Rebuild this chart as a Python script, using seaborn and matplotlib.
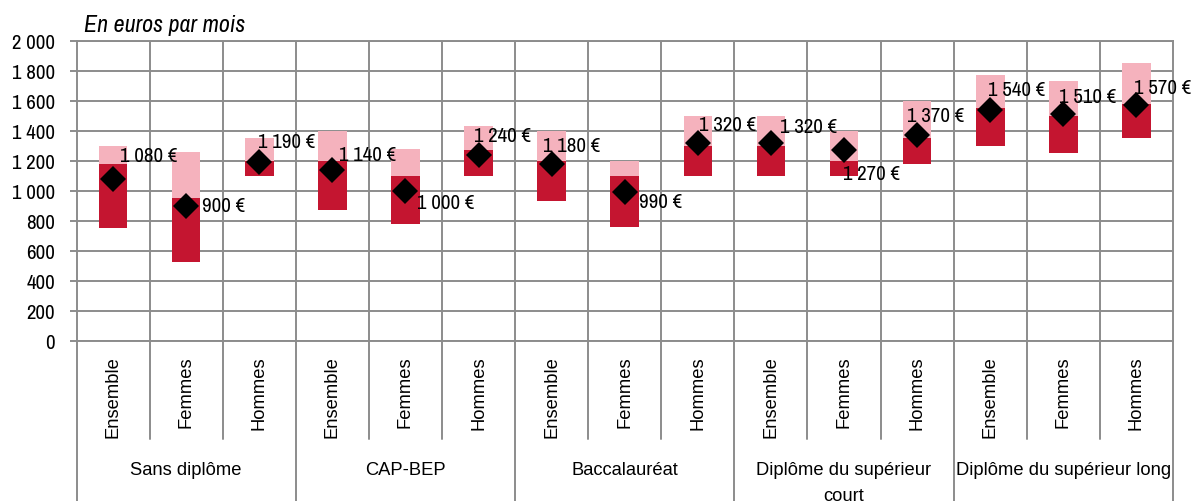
import numpy as np
import pandas as pd
import matplotlib
matplotlib.use("Agg")
import matplotlib.pyplot as plt
import matplotlib.transforms as mtransforms
from matplotlib import font_manager as fm
import seaborn as sns

# Salary distribution by diploma and sex (euros per month)
groups = ["Sans diplôme", "CAP-BEP", "Baccalauréat",
          "Diplôme du supérieur\ncourt", "Diplôme du supérieur long"]
subgroups = ["Ensemble", "Femmes", "Hommes"]

low = [750, 525, 1100, 870, 780, 1100, 930, 760, 1100,
       1100, 1100, 1180, 1300, 1250, 1350]
mid = [1180, 950, 1200, 1200, 1100, 1270, 1200, 1100, 1300,
       1300, 1200, 1350, 1550, 1500, 1580]
high = [1300, 1260, 1350, 1400, 1280, 1430, 1400, 1200, 1500,
        1500, 1400, 1600, 1770, 1730, 1850]
value = [1080, 900, 1190, 1140, 1000, 1240, 1180, 990, 1320,
         1320, 1270, 1370, 1540, 1510, 1570]

y_ticks = list(range(0, 2001, 200))

DARK = "#C41530"
PINK = "#F5B2BD"
GRID = "#8C8C8C"

# Narrow face for numbers and the unit note; Arial-metric face for categories
installed = {f.name for f in fm.fontManager.ttflist}
narrow = [n for n in installed if "Narrow" in n or "Condensed" in n]
if "Liberation Sans Narrow" in narrow:
    NUM_FAMILY, FS, TITLE_FS = "Liberation Sans Narrow", 16, 18
elif narrow:
    NUM_FAMILY, FS, TITLE_FS = sorted(narrow)[0], 15, 17.3
else:
    NUM_FAMILY, FS, TITLE_FS = "Liberation Sans", 13.1, 14.4
CAT_FAMILY = ["Liberation Sans", "DejaVu Sans"]
CAT_FS = 13.2

sns.set_theme(style="white")
plt.rcParams["font.family"] = [NUM_FAMILY, "DejaVu Sans"]
plt.rcParams["font.size"] = FS
plt.rcParams["text.color"] = "black"
plt.rcParams["xtick.labelcolor"] = "black"
plt.rcParams["ytick.labelcolor"] = "black"

keys = [f"{g} | {s}" for g in groups for s in subgroups]
df = pd.DataFrame({
    "key": keys,
    "sub": [s for _ in groups for s in subgroups],
    "low": low, "mid": mid, "high": high, "value": value,
})
df["upper"] = df["high"] - df["mid"]
df["lower"] = df["mid"] - df["low"]

fig = plt.figure(figsize=(11.96, 5.02), dpi=100)
ax = fig.add_axes([76.5 / 1196, 160.3 / 502, (1173 - 76.5) / 1196, 300 / 502])

sns.barplot(data=df, x="key", y="upper", bottom=df["mid"].to_numpy(),
            color=PINK, saturation=1, width=0.39, errorbar=None,
            linewidth=0, ax=ax, zorder=2)
sns.barplot(data=df, x="key", y="lower", bottom=df["low"].to_numpy(),
            color=DARK, saturation=1, width=0.39, errorbar=None,
            linewidth=0, ax=ax, zorder=2)
sns.pointplot(data=df, x="key", y="value", color="black", marker="D",
              linestyle="none", markersize=13.3, markeredgewidth=0,
              errorbar=None, ax=ax, zorder=4)

n = len(keys)
ax.set_xlim(-0.5, n - 0.5)
ax.set_ylim(0, 2000)
ax.set_xlabel("")
ax.set_ylabel("")

# Axis, grid and ticks
ax.set_yticks(y_ticks, labels=[f"{v:,}".replace(",", " ") for v in y_ticks])
ax.set_xticks(range(n), labels=df["sub"], rotation=90)
ax.set_xticks(np.arange(0.5, n - 1), minor=True)
for lab in ax.get_xticklabels():
    lab.set_fontfamily(CAT_FAMILY)
ax.tick_params(axis="x", which="both", length=0, pad=10.3, labelsize=CAT_FS)
ax.tick_params(axis="y", which="major", length=4.8, width=1.4, color=GRID,
               direction="out", pad=10.5, labelsize=FS, left=True)
ax.grid(False)
ax.grid(True, axis="y", which="major", color=GRID, linewidth=1.4)
ax.grid(True, axis="x", which="minor", color=GRID, linewidth=1.4)
ax.set_axisbelow(True)
for side in ax.spines.values():
    side.set_visible(True)
    side.set_color(GRID)
    side.set_linewidth(1.4)

# Value labels next to the diamonds (offsets in points)
label_offsets = [(5, 16.5), (11.5, 0), (-1, 15), (4.5, 11), (8.5, -8.5),
                 (-3, 14), (-6, 13), (10.5, -6.5), (1, 13), (6.5, 11.5),
                 (-1, -16.5), (-7, 14.5), (-1.5, 14.5), (-3, 12.5), (-2, 13)]
for i, (v, (dx, dy)) in enumerate(zip(value, label_offsets)):
    ax.annotate(f"{v:,}".replace(",", " ") + " €", xy=(i, v),
                xytext=(dx, dy), textcoords="offset points",
                ha="left", va="center", fontsize=FS, color="black",
                zorder=5)

# Separators of the two-level category axis
trans = mtransforms.blended_transform_factory(ax.transData, ax.transAxes)
for b in np.arange(-0.5, n):
    is_group_edge = abs((b + 0.5) % 3) < 1e-9
    y_end = -0.56 if is_group_edge else -0.3277
    ax.plot([b, b], [0, y_end], color=GRID, linewidth=1.4,
            transform=trans, clip_on=False, zorder=1)

for gi, g in enumerate(groups):
    ax.text(gi * 3 + 1, -0.401, g, transform=trans, ha="center",
            va="top", fontsize=CAT_FS, family=CAT_FAMILY,
            linespacing=1.66, clip_on=False)

fig.text(84 / 1196, (502 - 31.5) / 502, "En euros par mois", style="italic",
         fontsize=TITLE_FS, ha="left", va="baseline")

fig.savefig("out.png", dpi=100)
